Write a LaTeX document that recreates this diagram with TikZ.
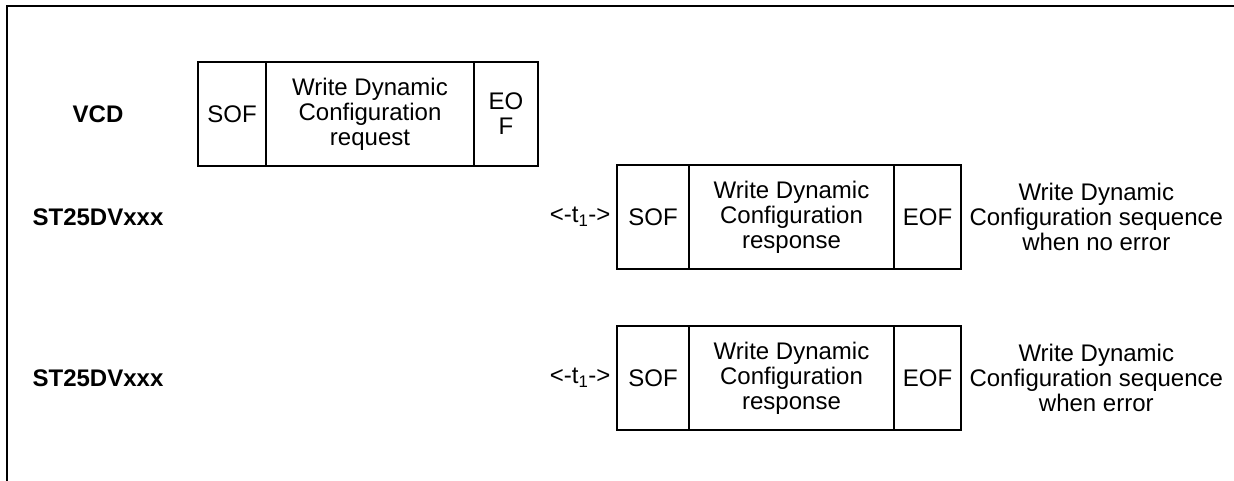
\documentclass[tikz,border=0pt]{standalone}
\usepackage{fontspec}
\setmainfont{Liberation Sans}
\usetikzlibrary{positioning}
\tikzset{
  cell/.style={draw,line width=2pt,minimum height=104pt,inner sep=0pt,outer sep=0pt,
    align=center,font=\fontsize{24}{25}\selectfont},
  lbl/.style={align=center,font=\fontsize{24}{25}\selectfont},
  dev/.style={font=\fontsize{24}{25}\selectfont\bfseries}
}
\begin{document}
\begin{tikzpicture}[x=1pt,y=-1pt]
    \useasboundingbox (0,0) rectangle (1234,481);
    % frame (top and left only)
    \draw[line width=2.2pt] (1234,6) -- (7,6) -- (7,481);
    % device names
    \node[dev] (vcd) at (98,114) {VCD};
    \node[dev] (devok) at (98,217) {ST25DVxxx};
    \node[dev] (deverr) at (98,378) {ST25DVxxx};
    % request frame sent by VCD
    \node[cell,minimum width=68pt,anchor=north west] (reqsof) at (198,62) {SOF};
    \node[cell,minimum width=208pt,right=0pt of reqsof] (reqcmd) {Write Dynamic\\Configuration\\request};
    \node[cell,minimum width=64pt,right=0pt of reqcmd] (reqeof) {EO\\F};
    % response when no error
    \node[cell,minimum width=72pt,anchor=north west] (oksof) at (617,165) {SOF};
    \node[cell,minimum width=205pt,right=0pt of oksof] (okcmd) {Write Dynamic\\Configuration\\response};
    \node[cell,minimum width=67pt,right=0pt of okcmd] (okeof) {EOF};
    \node[lbl,left=3pt of oksof] (okwait) {<-t\textsubscript{1}->};
    \node[lbl,right=5pt of okeof] (oknote) {Write Dynamic\\Configuration sequence\\when no error};
    % response when error
    \node[cell,minimum width=72pt,anchor=north west] (errsof) at (617,326) {SOF};
    \node[cell,minimum width=205pt,right=0pt of errsof] (errcmd) {Write Dynamic\\Configuration\\response};
    \node[cell,minimum width=67pt,right=0pt of errcmd] (erreof) {EOF};
    \node[lbl,left=3pt of errsof] (errwait) {<-t\textsubscript{1}->};
    \node[lbl,right=5pt of erreof] (errnote) {Write Dynamic\\Configuration sequence\\when error};
\end{tikzpicture}
\end{document}
